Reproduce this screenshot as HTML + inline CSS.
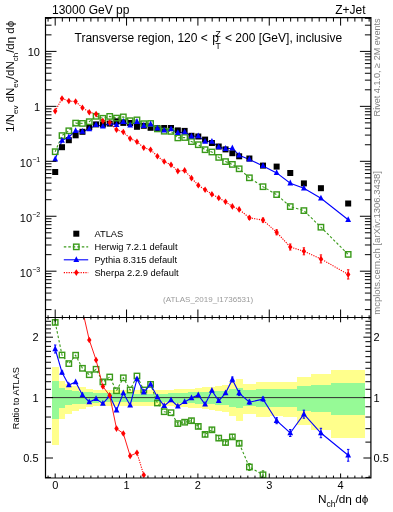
<!DOCTYPE html><html><head><meta charset="utf-8"><style>html,body{margin:0;padding:0;background:#fff;width:393px;height:512px;overflow:hidden}svg{display:block;will-change:transform}</style></head><body><svg width="393" height="512" viewBox="0 0 393 512"><defs><clipPath id="cm"><rect x="45.5" y="17.6" width="325.4" height="299.9"/></clipPath><clipPath id="cr"><rect x="45.5" y="317.5" width="325.4" height="160.5"/></clipPath></defs><rect width="393" height="512" fill="#fff"/><g clip-path="url(#cr)"><rect x="51.79" y="366.92" width="6.81" height="78.45" fill="#ffff8c" shape-rendering="crispEdges"/><rect x="58.61" y="380.56" width="6.81" height="38.25" fill="#ffff8c" shape-rendering="crispEdges"/><rect x="65.42" y="383.92" width="6.81" height="29.92" fill="#ffff8c" shape-rendering="crispEdges"/><rect x="72.23" y="385.8" width="6.81" height="25.45" fill="#ffff8c" shape-rendering="crispEdges"/><rect x="79.05" y="387.49" width="6.81" height="21.55" fill="#ffff8c" shape-rendering="crispEdges"/><rect x="85.86" y="388.82" width="6.81" height="18.54" fill="#ffff8c" shape-rendering="crispEdges"/><rect x="92.67" y="389.77" width="6.81" height="16.43" fill="#ffff8c" shape-rendering="crispEdges"/><rect x="99.49" y="389.77" width="6.81" height="16.43" fill="#ffff8c" shape-rendering="crispEdges"/><rect x="106.3" y="389.77" width="6.81" height="16.43" fill="#ffff8c" shape-rendering="crispEdges"/><rect x="113.11" y="389.77" width="6.81" height="16.43" fill="#ffff8c" shape-rendering="crispEdges"/><rect x="119.93" y="389.77" width="6.81" height="16.43" fill="#ffff8c" shape-rendering="crispEdges"/><rect x="126.74" y="389.77" width="6.81" height="16.43" fill="#ffff8c" shape-rendering="crispEdges"/><rect x="133.55" y="389.85" width="6.81" height="16.25" fill="#ffff8c" shape-rendering="crispEdges"/><rect x="140.37" y="389.85" width="6.81" height="16.25" fill="#ffff8c" shape-rendering="crispEdges"/><rect x="147.18" y="389.85" width="6.81" height="16.25" fill="#ffff8c" shape-rendering="crispEdges"/><rect x="153.99" y="389.85" width="6.81" height="16.25" fill="#ffff8c" shape-rendering="crispEdges"/><rect x="160.81" y="389.85" width="6.81" height="16.25" fill="#ffff8c" shape-rendering="crispEdges"/><rect x="167.62" y="389.69" width="6.81" height="16.61" fill="#ffff8c" shape-rendering="crispEdges"/><rect x="174.43" y="389.29" width="6.81" height="17.49" fill="#ffff8c" shape-rendering="crispEdges"/><rect x="181.25" y="389.29" width="6.81" height="17.49" fill="#ffff8c" shape-rendering="crispEdges"/><rect x="188.06" y="388.51" width="6.81" height="19.25" fill="#ffff8c" shape-rendering="crispEdges"/><rect x="194.87" y="387.96" width="6.81" height="20.48" fill="#ffff8c" shape-rendering="crispEdges"/><rect x="201.69" y="387.34" width="6.81" height="21.9" fill="#ffff8c" shape-rendering="crispEdges"/><rect x="208.5" y="386.95" width="6.81" height="22.79" fill="#ffff8c" shape-rendering="crispEdges"/><rect x="215.32" y="385.65" width="6.81" height="25.81" fill="#ffff8c" shape-rendering="crispEdges"/><rect x="222.13" y="385.42" width="6.81" height="26.34" fill="#ffff8c" shape-rendering="crispEdges"/><rect x="228.94" y="382.44" width="6.81" height="33.52" fill="#ffff8c" shape-rendering="crispEdges"/><rect x="235.76" y="379.28" width="6.81" height="41.55" fill="#ffff8c" shape-rendering="crispEdges"/><rect x="242.57" y="384.14" width="13.63" height="29.38" fill="#ffff8c" shape-rendering="crispEdges"/><rect x="256.2" y="382.08" width="13.63" height="34.42" fill="#ffff8c" shape-rendering="crispEdges"/><rect x="269.82" y="382.44" width="13.63" height="33.52" fill="#ffff8c" shape-rendering="crispEdges"/><rect x="283.45" y="382.08" width="13.63" height="34.42" fill="#ffff8c" shape-rendering="crispEdges"/><rect x="297.08" y="376.77" width="13.63" height="48.25" fill="#ffff8c" shape-rendering="crispEdges"/><rect x="310.7" y="374.2" width="20.44" height="55.48" fill="#ffff8c" shape-rendering="crispEdges"/><rect x="331.14" y="370.3" width="34.07" height="67.29" fill="#ffff8c" shape-rendering="crispEdges"/><rect x="51.79" y="380.56" width="6.81" height="38.25" fill="#96fa96" shape-rendering="crispEdges"/><rect x="58.61" y="388.27" width="6.81" height="19.78" fill="#96fa96" shape-rendering="crispEdges"/><rect x="65.42" y="390.49" width="6.81" height="14.85" fill="#96fa96" shape-rendering="crispEdges"/><rect x="72.23" y="391.38" width="6.81" height="12.92" fill="#96fa96" shape-rendering="crispEdges"/><rect x="79.05" y="391.95" width="6.81" height="11.69" fill="#96fa96" shape-rendering="crispEdges"/><rect x="85.86" y="392.44" width="6.81" height="10.64" fill="#96fa96" shape-rendering="crispEdges"/><rect x="92.67" y="392.85" width="6.81" height="9.77" fill="#96fa96" shape-rendering="crispEdges"/><rect x="99.49" y="393.02" width="6.81" height="9.42" fill="#96fa96" shape-rendering="crispEdges"/><rect x="106.3" y="393.1" width="6.81" height="9.25" fill="#96fa96" shape-rendering="crispEdges"/><rect x="113.11" y="393.1" width="6.81" height="9.25" fill="#96fa96" shape-rendering="crispEdges"/><rect x="119.93" y="393.1" width="6.81" height="9.25" fill="#96fa96" shape-rendering="crispEdges"/><rect x="126.74" y="393.1" width="6.81" height="9.25" fill="#96fa96" shape-rendering="crispEdges"/><rect x="133.55" y="393.51" width="6.81" height="8.37" fill="#96fa96" shape-rendering="crispEdges"/><rect x="140.37" y="393.51" width="6.81" height="8.37" fill="#96fa96" shape-rendering="crispEdges"/><rect x="147.18" y="393.51" width="6.81" height="8.37" fill="#96fa96" shape-rendering="crispEdges"/><rect x="153.99" y="393.51" width="6.81" height="8.37" fill="#96fa96" shape-rendering="crispEdges"/><rect x="160.81" y="393.51" width="6.81" height="8.37" fill="#96fa96" shape-rendering="crispEdges"/><rect x="167.62" y="393.35" width="6.81" height="8.72" fill="#96fa96" shape-rendering="crispEdges"/><rect x="174.43" y="392.85" width="6.81" height="9.77" fill="#96fa96" shape-rendering="crispEdges"/><rect x="181.25" y="392.69" width="6.81" height="10.12" fill="#96fa96" shape-rendering="crispEdges"/><rect x="188.06" y="392.19" width="6.81" height="11.17" fill="#96fa96" shape-rendering="crispEdges"/><rect x="194.87" y="391.95" width="6.81" height="11.69" fill="#96fa96" shape-rendering="crispEdges"/><rect x="201.69" y="391.7" width="6.81" height="12.22" fill="#96fa96" shape-rendering="crispEdges"/><rect x="208.5" y="391.38" width="6.81" height="12.92" fill="#96fa96" shape-rendering="crispEdges"/><rect x="215.32" y="390.89" width="6.81" height="13.97" fill="#96fa96" shape-rendering="crispEdges"/><rect x="222.13" y="390.89" width="6.81" height="13.97" fill="#96fa96" shape-rendering="crispEdges"/><rect x="228.94" y="388.9" width="6.81" height="18.37" fill="#96fa96" shape-rendering="crispEdges"/><rect x="235.76" y="387.96" width="6.81" height="20.48" fill="#96fa96" shape-rendering="crispEdges"/><rect x="242.57" y="389.69" width="13.63" height="16.61" fill="#96fa96" shape-rendering="crispEdges"/><rect x="256.2" y="389.06" width="13.63" height="18.01" fill="#96fa96" shape-rendering="crispEdges"/><rect x="269.82" y="389.29" width="13.63" height="17.49" fill="#96fa96" shape-rendering="crispEdges"/><rect x="283.45" y="389.29" width="13.63" height="17.49" fill="#96fa96" shape-rendering="crispEdges"/><rect x="297.08" y="385.72" width="13.63" height="25.63" fill="#96fa96" shape-rendering="crispEdges"/><rect x="310.7" y="385.19" width="20.44" height="26.88" fill="#96fa96" shape-rendering="crispEdges"/><rect x="331.14" y="382.96" width="34.07" height="32.26" fill="#96fa96" shape-rendering="crispEdges"/><line x1="45.5" y1="397.6" x2="370.9" y2="397.6" stroke="#333" stroke-width="1"/></g><g clip-path="url(#cr)"><polyline points="55.2,322.4 62.01,355 68.83,363.6 75.64,355.2 82.45,368.3 89.27,374.7 96.08,369.25 102.89,381.9 109.71,377 116.52,390.7 123.33,377.8 130.15,390 136.96,376 143.77,390 150.59,384.4 157.4,403 164.21,411.7 171.03,412.7 177.84,423.6 184.65,422.2 191.47,420.7 198.28,426.4 205.09,434.4 211.91,429.8 218.72,438.1 225.54,442.5 232.35,436.9 239.16,443.3 249.38,467 263.01,474.8 276.64,520" fill="none" stroke="#3a9a1a" stroke-width="1.1" stroke-dasharray="2.5,2"/><path d="M55.2 320.4V324.4M54 320.4H56.4M54 324.4H56.4" stroke="#3a9a1a" stroke-width="1" fill="none"/><rect x="52.5" y="319.7" width="5.4" height="5.4" fill="none" stroke="#3a9a1a" stroke-width="1.4"/><rect x="59.31" y="352.3" width="5.4" height="5.4" fill="none" stroke="#3a9a1a" stroke-width="1.4"/><rect x="66.13" y="360.9" width="5.4" height="5.4" fill="none" stroke="#3a9a1a" stroke-width="1.4"/><rect x="72.94" y="352.5" width="5.4" height="5.4" fill="none" stroke="#3a9a1a" stroke-width="1.4"/><rect x="79.75" y="365.6" width="5.4" height="5.4" fill="none" stroke="#3a9a1a" stroke-width="1.4"/><rect x="86.57" y="372" width="5.4" height="5.4" fill="none" stroke="#3a9a1a" stroke-width="1.4"/><rect x="93.38" y="366.55" width="5.4" height="5.4" fill="none" stroke="#3a9a1a" stroke-width="1.4"/><rect x="100.19" y="379.2" width="5.4" height="5.4" fill="none" stroke="#3a9a1a" stroke-width="1.4"/><rect x="107.01" y="374.3" width="5.4" height="5.4" fill="none" stroke="#3a9a1a" stroke-width="1.4"/><rect x="113.82" y="388" width="5.4" height="5.4" fill="none" stroke="#3a9a1a" stroke-width="1.4"/><rect x="120.63" y="375.1" width="5.4" height="5.4" fill="none" stroke="#3a9a1a" stroke-width="1.4"/><rect x="127.45" y="387.3" width="5.4" height="5.4" fill="none" stroke="#3a9a1a" stroke-width="1.4"/><rect x="134.26" y="373.3" width="5.4" height="5.4" fill="none" stroke="#3a9a1a" stroke-width="1.4"/><rect x="141.07" y="387.3" width="5.4" height="5.4" fill="none" stroke="#3a9a1a" stroke-width="1.4"/><rect x="147.89" y="381.7" width="5.4" height="5.4" fill="none" stroke="#3a9a1a" stroke-width="1.4"/><rect x="154.7" y="400.3" width="5.4" height="5.4" fill="none" stroke="#3a9a1a" stroke-width="1.4"/><rect x="161.51" y="409" width="5.4" height="5.4" fill="none" stroke="#3a9a1a" stroke-width="1.4"/><rect x="168.33" y="410" width="5.4" height="5.4" fill="none" stroke="#3a9a1a" stroke-width="1.4"/><path d="M177.84 422.1V425.1M176.64 422.1H179.04M176.64 425.1H179.04" stroke="#3a9a1a" stroke-width="1" fill="none"/><rect x="175.14" y="420.9" width="5.4" height="5.4" fill="none" stroke="#3a9a1a" stroke-width="1.4"/><path d="M184.65 420.7V423.7M183.45 420.7H185.85M183.45 423.7H185.85" stroke="#3a9a1a" stroke-width="1" fill="none"/><rect x="181.95" y="419.5" width="5.4" height="5.4" fill="none" stroke="#3a9a1a" stroke-width="1.4"/><path d="M191.47 418.7V422.7M190.27 418.7H192.67M190.27 422.7H192.67" stroke="#3a9a1a" stroke-width="1" fill="none"/><rect x="188.77" y="418" width="5.4" height="5.4" fill="none" stroke="#3a9a1a" stroke-width="1.4"/><path d="M198.28 424.4V428.4M197.08 424.4H199.48M197.08 428.4H199.48" stroke="#3a9a1a" stroke-width="1" fill="none"/><rect x="195.58" y="423.7" width="5.4" height="5.4" fill="none" stroke="#3a9a1a" stroke-width="1.4"/><path d="M205.09 432.4V436.4M203.89 432.4H206.29M203.89 436.4H206.29" stroke="#3a9a1a" stroke-width="1" fill="none"/><rect x="202.39" y="431.7" width="5.4" height="5.4" fill="none" stroke="#3a9a1a" stroke-width="1.4"/><path d="M211.91 427.8V431.8M210.71 427.8H213.11M210.71 431.8H213.11" stroke="#3a9a1a" stroke-width="1" fill="none"/><rect x="209.21" y="427.1" width="5.4" height="5.4" fill="none" stroke="#3a9a1a" stroke-width="1.4"/><path d="M218.72 435.6V440.6M217.52 435.6H219.92M217.52 440.6H219.92" stroke="#3a9a1a" stroke-width="1" fill="none"/><rect x="216.02" y="435.4" width="5.4" height="5.4" fill="none" stroke="#3a9a1a" stroke-width="1.4"/><path d="M225.54 440V445M224.34 440H226.74M224.34 445H226.74" stroke="#3a9a1a" stroke-width="1" fill="none"/><rect x="222.84" y="439.8" width="5.4" height="5.4" fill="none" stroke="#3a9a1a" stroke-width="1.4"/><path d="M232.35 434.4V439.4M231.15 434.4H233.55M231.15 439.4H233.55" stroke="#3a9a1a" stroke-width="1" fill="none"/><rect x="229.65" y="434.2" width="5.4" height="5.4" fill="none" stroke="#3a9a1a" stroke-width="1.4"/><path d="M239.16 440.8V445.8M237.96 440.8H240.36M237.96 445.8H240.36" stroke="#3a9a1a" stroke-width="1" fill="none"/><rect x="236.46" y="440.6" width="5.4" height="5.4" fill="none" stroke="#3a9a1a" stroke-width="1.4"/><path d="M249.38 463.5V470.5M248.18 463.5H250.58M248.18 470.5H250.58" stroke="#3a9a1a" stroke-width="1" fill="none"/><rect x="246.68" y="464.3" width="5.4" height="5.4" fill="none" stroke="#3a9a1a" stroke-width="1.4"/><path d="M263.01 470.8V478.8M261.81 470.8H264.21M261.81 478.8H264.21" stroke="#3a9a1a" stroke-width="1" fill="none"/><rect x="260.31" y="472.1" width="5.4" height="5.4" fill="none" stroke="#3a9a1a" stroke-width="1.4"/><polyline points="55.2,349 62.01,372.5 68.83,385 75.64,382 82.45,395 89.27,402 96.08,398.9 102.89,403.6 109.71,395.8 116.52,410.3 123.33,393.1 130.15,405.2 136.96,379 143.77,392.2 150.59,384.4 157.4,397 164.21,405.9 171.03,400 177.84,406.25 184.65,401.9 191.47,398.1 198.28,395 205.09,404.4 211.91,390.6 218.72,400.9 225.54,393.1 232.35,379.5 239.16,393.1 249.38,402.2 263.01,399.1 276.64,420.7 290.26,433 303.89,414.2 320.92,433 348.18,455.3" fill="none" stroke="#0000ff" stroke-width="1.1"/><path d="M55.2 345V353M54 345H56.4M54 353H56.4" stroke="#0000ff" stroke-width="1" fill="none"/><polygon points="55.2,345.4 52.3,351.2 58.1,351.2" fill="#0000ff"/><path d="M62.01 371V374M60.81 371H63.21M60.81 374H63.21" stroke="#0000ff" stroke-width="1" fill="none"/><polygon points="62.01,368.9 59.11,374.7 64.91,374.7" fill="#0000ff"/><polygon points="68.83,381.4 65.93,387.2 71.73,387.2" fill="#0000ff"/><polygon points="75.64,378.4 72.74,384.2 78.54,384.2" fill="#0000ff"/><polygon points="82.45,391.4 79.55,397.2 85.35,397.2" fill="#0000ff"/><polygon points="89.27,398.4 86.37,404.2 92.17,404.2" fill="#0000ff"/><polygon points="96.08,395.3 93.18,401.1 98.98,401.1" fill="#0000ff"/><polygon points="102.89,400 99.99,405.8 105.79,405.8" fill="#0000ff"/><polygon points="109.71,392.2 106.81,398 112.61,398" fill="#0000ff"/><polygon points="116.52,406.7 113.62,412.5 119.42,412.5" fill="#0000ff"/><polygon points="123.33,389.5 120.43,395.3 126.23,395.3" fill="#0000ff"/><polygon points="130.15,401.6 127.25,407.4 133.05,407.4" fill="#0000ff"/><polygon points="136.96,375.4 134.06,381.2 139.86,381.2" fill="#0000ff"/><polygon points="143.77,388.6 140.87,394.4 146.67,394.4" fill="#0000ff"/><polygon points="150.59,380.8 147.69,386.6 153.49,386.6" fill="#0000ff"/><polygon points="157.4,393.4 154.5,399.2 160.3,399.2" fill="#0000ff"/><polygon points="164.21,402.3 161.31,408.1 167.11,408.1" fill="#0000ff"/><polygon points="171.03,396.4 168.13,402.2 173.93,402.2" fill="#0000ff"/><polygon points="177.84,402.65 174.94,408.45 180.74,408.45" fill="#0000ff"/><polygon points="184.65,398.3 181.75,404.1 187.55,404.1" fill="#0000ff"/><polygon points="191.47,394.5 188.57,400.3 194.37,400.3" fill="#0000ff"/><polygon points="198.28,391.4 195.38,397.2 201.18,397.2" fill="#0000ff"/><polygon points="205.09,400.8 202.19,406.6 207.99,406.6" fill="#0000ff"/><polygon points="211.91,387 209.01,392.8 214.81,392.8" fill="#0000ff"/><polygon points="218.72,397.3 215.82,403.1 221.62,403.1" fill="#0000ff"/><polygon points="225.54,389.5 222.64,395.3 228.44,395.3" fill="#0000ff"/><path d="M232.35 377V382M231.15 377H233.55M231.15 382H233.55" stroke="#0000ff" stroke-width="1" fill="none"/><polygon points="232.35,375.9 229.45,381.7 235.25,381.7" fill="#0000ff"/><path d="M239.16 390.6V395.6M237.96 390.6H240.36M237.96 395.6H240.36" stroke="#0000ff" stroke-width="1" fill="none"/><polygon points="239.16,389.5 236.26,395.3 242.06,395.3" fill="#0000ff"/><path d="M249.38 400.2V404.2M248.18 400.2H250.58M248.18 404.2H250.58" stroke="#0000ff" stroke-width="1" fill="none"/><polygon points="249.38,398.6 246.48,404.4 252.28,404.4" fill="#0000ff"/><path d="M263.01 397.1V401.1M261.81 397.1H264.21M261.81 401.1H264.21" stroke="#0000ff" stroke-width="1" fill="none"/><polygon points="263.01,395.5 260.11,401.3 265.91,401.3" fill="#0000ff"/><path d="M276.64 417.7V423.7M275.44 417.7H277.84M275.44 423.7H277.84" stroke="#0000ff" stroke-width="1" fill="none"/><polygon points="276.64,417.1 273.74,422.9 279.54,422.9" fill="#0000ff"/><path d="M290.26 429.5V436.5M289.06 429.5H291.46M289.06 436.5H291.46" stroke="#0000ff" stroke-width="1" fill="none"/><polygon points="290.26,429.4 287.36,435.2 293.16,435.2" fill="#0000ff"/><path d="M303.89 410.2V418.2M302.69 410.2H305.09M302.69 418.2H305.09" stroke="#0000ff" stroke-width="1" fill="none"/><polygon points="303.89,410.6 300.99,416.4 306.79,416.4" fill="#0000ff"/><path d="M320.92 428.3V437.7M319.72 428.3H322.12M319.72 437.7H322.12" stroke="#0000ff" stroke-width="1" fill="none"/><polygon points="320.92,429.4 318.02,435.2 323.82,435.2" fill="#0000ff"/><path d="M348.18 449.4V461.2M346.98 449.4H349.38M346.98 461.2H349.38" stroke="#0000ff" stroke-width="1" fill="none"/><polygon points="348.18,451.7 345.28,457.5 351.08,457.5" fill="#0000ff"/><polyline points="75.64,250 82.45,310 89.27,340 96.08,360 102.89,386.5 109.71,395.5 116.52,428.6 123.33,433.5 130.15,455.9 136.96,452.8" fill="none" stroke="#ff0000" stroke-width="0.9"/><polyline points="136.96,452.8 143.77,475 150.59,520" fill="none" stroke="#ff0000" stroke-width="1.1" stroke-dasharray="1.2,1.2"/><polygon points="82.45,306.7 84.65,310 82.45,313.3 80.25,310" fill="#ff0000"/><polygon points="89.27,336.7 91.47,340 89.27,343.3 87.07,340" fill="#ff0000"/><polygon points="96.08,356.7 98.28,360 96.08,363.3 93.88,360" fill="#ff0000"/><polygon points="102.89,383.2 105.09,386.5 102.89,389.8 100.69,386.5" fill="#ff0000"/><polygon points="109.71,392.2 111.91,395.5 109.71,398.8 107.51,395.5" fill="#ff0000"/><polygon points="116.52,425.3 118.72,428.6 116.52,431.9 114.32,428.6" fill="#ff0000"/><polygon points="123.33,430.2 125.53,433.5 123.33,436.8 121.13,433.5" fill="#ff0000"/><polygon points="130.15,452.6 132.35,455.9 130.15,459.2 127.95,455.9" fill="#ff0000"/><polygon points="136.96,449.5 139.16,452.8 136.96,456.1 134.76,452.8" fill="#ff0000"/><polygon points="143.77,471.7 145.97,475 143.77,478.3 141.57,475" fill="#ff0000"/></g><g clip-path="url(#cm)"><polyline points="55.2,151.7 62.01,135.6 68.83,130.8 75.64,123.1 82.45,123.4 89.27,121.7 96.08,116.3 102.89,118.3 109.71,116.4 116.52,118.1 123.33,116.9 130.15,120.7 136.96,119.9 143.77,123.7 150.59,123.5 157.4,128.9 164.21,131.2 171.03,131.4 177.84,137.9 184.65,137.5 191.47,141.6 198.28,144.7 205.09,149.7 211.91,152 218.72,157.4 225.54,161.6 232.35,164.4 239.16,168.8 249.38,177.8 263.01,186.7 276.64,194.6 290.26,206.6 303.89,210.6 320.92,227.2 348.18,254.4" fill="none" stroke="#3a9a1a" stroke-width="1.1" stroke-dasharray="2.5,2"/><polyline points="55.2,159.2 62.01,140.5 68.83,137 75.64,130.8 82.45,131.6 89.27,129.1 96.08,124.8 102.89,126.3 109.71,123.1 116.52,124.8 123.33,121.7 130.15,125.2 136.96,121.7 143.77,125.7 150.59,124.2 157.4,128.3 164.21,130.3 171.03,129.1 177.84,132.9 184.65,132.1 191.47,136.3 198.28,136 205.09,141.5 211.91,141.5 218.72,147.1 225.54,148.7 232.35,148.2 239.16,155.2 249.38,159.4 263.01,165.9 276.64,172.9 290.26,183.2 303.89,188.2 320.92,198.3 348.18,219.8" fill="none" stroke="#0000ff" stroke-width="1.1"/><polyline points="55.2,111.1 62.01,98.5 68.83,101 75.64,101.6 82.45,107.7 89.27,112.2 96.08,114.1 102.89,121 109.71,122.6 116.52,129.8 123.33,132 130.15,138.6 136.96,141.8 143.77,147.7 150.59,149.8 157.4,156.2 164.21,161.5 171.03,164.7 177.84,171.1 184.65,170.4 191.47,178.1 198.28,185.3 205.09,189.8 211.91,194.2 218.72,198 225.54,201.8 232.35,206.4 239.16,209.4 249.38,217.8 263.01,220.1 276.64,232.3 290.26,247 303.89,251.3 320.92,258.9 348.18,274.4" fill="none" stroke="#ff0000" stroke-width="1.1" stroke-dasharray="1.2,1.2"/><rect x="52.2" y="169" width="6" height="6" fill="#000"/><rect x="59.01" y="144.2" width="6" height="6" fill="#000"/><rect x="65.83" y="137.2" width="6" height="6" fill="#000"/><rect x="72.64" y="132.3" width="6" height="6" fill="#000"/><rect x="79.45" y="128.8" width="6" height="6" fill="#000"/><rect x="86.27" y="124.2" width="6" height="6" fill="#000"/><rect x="93.08" y="121.4" width="6" height="6" fill="#000"/><rect x="99.89" y="121.6" width="6" height="6" fill="#000"/><rect x="106.71" y="120.6" width="6" height="6" fill="#000"/><rect x="113.52" y="118.3" width="6" height="6" fill="#000"/><rect x="120.33" y="119.9" width="6" height="6" fill="#000"/><rect x="127.15" y="120" width="6" height="6" fill="#000"/><rect x="133.96" y="123.8" width="6" height="6" fill="#000"/><rect x="140.77" y="122.8" width="6" height="6" fill="#000"/><rect x="147.59" y="124.8" width="6" height="6" fill="#000"/><rect x="154.4" y="125.2" width="6" height="6" fill="#000"/><rect x="161.21" y="125" width="6" height="6" fill="#000"/><rect x="168.03" y="125" width="6" height="6" fill="#000"/><rect x="174.84" y="127.4" width="6" height="6" fill="#000"/><rect x="181.65" y="127.9" width="6" height="6" fill="#000"/><rect x="188.47" y="132.8" width="6" height="6" fill="#000"/><rect x="195.28" y="133.5" width="6" height="6" fill="#000"/><rect x="202.09" y="136.6" width="6" height="6" fill="#000"/><rect x="208.91" y="140" width="6" height="6" fill="#000"/><rect x="215.72" y="143.5" width="6" height="6" fill="#000"/><rect x="222.54" y="146.4" width="6" height="6" fill="#000"/><rect x="229.35" y="150.2" width="6" height="6" fill="#000"/><rect x="236.16" y="153.3" width="6" height="6" fill="#000"/><rect x="246.38" y="155.5" width="6" height="6" fill="#000"/><rect x="260.01" y="162.6" width="6" height="6" fill="#000"/><rect x="273.64" y="163.6" width="6" height="6" fill="#000"/><rect x="287.26" y="170" width="6" height="6" fill="#000"/><rect x="300.89" y="180.4" width="6" height="6" fill="#000"/><rect x="317.92" y="185.2" width="6" height="6" fill="#000"/><rect x="345.18" y="200.5" width="6" height="6" fill="#000"/><rect x="52.5" y="149" width="5.4" height="5.4" fill="none" stroke="#3a9a1a" stroke-width="1.4"/><rect x="59.31" y="132.9" width="5.4" height="5.4" fill="none" stroke="#3a9a1a" stroke-width="1.4"/><rect x="66.13" y="128.1" width="5.4" height="5.4" fill="none" stroke="#3a9a1a" stroke-width="1.4"/><rect x="72.94" y="120.4" width="5.4" height="5.4" fill="none" stroke="#3a9a1a" stroke-width="1.4"/><rect x="79.75" y="120.7" width="5.4" height="5.4" fill="none" stroke="#3a9a1a" stroke-width="1.4"/><rect x="86.57" y="119" width="5.4" height="5.4" fill="none" stroke="#3a9a1a" stroke-width="1.4"/><rect x="93.38" y="113.6" width="5.4" height="5.4" fill="none" stroke="#3a9a1a" stroke-width="1.4"/><rect x="100.19" y="115.6" width="5.4" height="5.4" fill="none" stroke="#3a9a1a" stroke-width="1.4"/><rect x="107.01" y="113.7" width="5.4" height="5.4" fill="none" stroke="#3a9a1a" stroke-width="1.4"/><rect x="113.82" y="115.4" width="5.4" height="5.4" fill="none" stroke="#3a9a1a" stroke-width="1.4"/><rect x="120.63" y="114.2" width="5.4" height="5.4" fill="none" stroke="#3a9a1a" stroke-width="1.4"/><rect x="127.45" y="118" width="5.4" height="5.4" fill="none" stroke="#3a9a1a" stroke-width="1.4"/><rect x="134.26" y="117.2" width="5.4" height="5.4" fill="none" stroke="#3a9a1a" stroke-width="1.4"/><rect x="141.07" y="121" width="5.4" height="5.4" fill="none" stroke="#3a9a1a" stroke-width="1.4"/><rect x="147.89" y="120.8" width="5.4" height="5.4" fill="none" stroke="#3a9a1a" stroke-width="1.4"/><rect x="154.7" y="126.2" width="5.4" height="5.4" fill="none" stroke="#3a9a1a" stroke-width="1.4"/><rect x="161.51" y="128.5" width="5.4" height="5.4" fill="none" stroke="#3a9a1a" stroke-width="1.4"/><rect x="168.33" y="128.7" width="5.4" height="5.4" fill="none" stroke="#3a9a1a" stroke-width="1.4"/><rect x="175.14" y="135.2" width="5.4" height="5.4" fill="none" stroke="#3a9a1a" stroke-width="1.4"/><rect x="181.95" y="134.8" width="5.4" height="5.4" fill="none" stroke="#3a9a1a" stroke-width="1.4"/><rect x="188.77" y="138.9" width="5.4" height="5.4" fill="none" stroke="#3a9a1a" stroke-width="1.4"/><rect x="195.58" y="142" width="5.4" height="5.4" fill="none" stroke="#3a9a1a" stroke-width="1.4"/><rect x="202.39" y="147" width="5.4" height="5.4" fill="none" stroke="#3a9a1a" stroke-width="1.4"/><rect x="209.21" y="149.3" width="5.4" height="5.4" fill="none" stroke="#3a9a1a" stroke-width="1.4"/><rect x="216.02" y="154.7" width="5.4" height="5.4" fill="none" stroke="#3a9a1a" stroke-width="1.4"/><rect x="222.84" y="158.9" width="5.4" height="5.4" fill="none" stroke="#3a9a1a" stroke-width="1.4"/><rect x="229.65" y="161.7" width="5.4" height="5.4" fill="none" stroke="#3a9a1a" stroke-width="1.4"/><rect x="236.46" y="166.1" width="5.4" height="5.4" fill="none" stroke="#3a9a1a" stroke-width="1.4"/><rect x="246.68" y="175.1" width="5.4" height="5.4" fill="none" stroke="#3a9a1a" stroke-width="1.4"/><rect x="260.31" y="184" width="5.4" height="5.4" fill="none" stroke="#3a9a1a" stroke-width="1.4"/><rect x="273.94" y="191.9" width="5.4" height="5.4" fill="none" stroke="#3a9a1a" stroke-width="1.4"/><rect x="287.56" y="203.9" width="5.4" height="5.4" fill="none" stroke="#3a9a1a" stroke-width="1.4"/><rect x="301.19" y="207.9" width="5.4" height="5.4" fill="none" stroke="#3a9a1a" stroke-width="1.4"/><rect x="318.22" y="224.5" width="5.4" height="5.4" fill="none" stroke="#3a9a1a" stroke-width="1.4"/><rect x="345.48" y="251.7" width="5.4" height="5.4" fill="none" stroke="#3a9a1a" stroke-width="1.4"/><polygon points="55.2,155.6 52.3,161.4 58.1,161.4" fill="#0000ff"/><polygon points="62.01,136.9 59.11,142.7 64.91,142.7" fill="#0000ff"/><polygon points="68.83,133.4 65.93,139.2 71.73,139.2" fill="#0000ff"/><polygon points="75.64,127.2 72.74,133 78.54,133" fill="#0000ff"/><polygon points="82.45,128 79.55,133.8 85.35,133.8" fill="#0000ff"/><polygon points="89.27,125.5 86.37,131.3 92.17,131.3" fill="#0000ff"/><polygon points="96.08,121.2 93.18,127 98.98,127" fill="#0000ff"/><polygon points="102.89,122.7 99.99,128.5 105.79,128.5" fill="#0000ff"/><polygon points="109.71,119.5 106.81,125.3 112.61,125.3" fill="#0000ff"/><polygon points="116.52,121.2 113.62,127 119.42,127" fill="#0000ff"/><polygon points="123.33,118.1 120.43,123.9 126.23,123.9" fill="#0000ff"/><polygon points="130.15,121.6 127.25,127.4 133.05,127.4" fill="#0000ff"/><polygon points="136.96,118.1 134.06,123.9 139.86,123.9" fill="#0000ff"/><polygon points="143.77,122.1 140.87,127.9 146.67,127.9" fill="#0000ff"/><polygon points="150.59,120.6 147.69,126.4 153.49,126.4" fill="#0000ff"/><polygon points="157.4,124.7 154.5,130.5 160.3,130.5" fill="#0000ff"/><polygon points="164.21,126.7 161.31,132.5 167.11,132.5" fill="#0000ff"/><polygon points="171.03,125.5 168.13,131.3 173.93,131.3" fill="#0000ff"/><polygon points="177.84,129.3 174.94,135.1 180.74,135.1" fill="#0000ff"/><polygon points="184.65,128.5 181.75,134.3 187.55,134.3" fill="#0000ff"/><polygon points="191.47,132.7 188.57,138.5 194.37,138.5" fill="#0000ff"/><polygon points="198.28,132.4 195.38,138.2 201.18,138.2" fill="#0000ff"/><polygon points="205.09,137.9 202.19,143.7 207.99,143.7" fill="#0000ff"/><polygon points="211.91,137.9 209.01,143.7 214.81,143.7" fill="#0000ff"/><polygon points="218.72,143.5 215.82,149.3 221.62,149.3" fill="#0000ff"/><polygon points="225.54,145.1 222.64,150.9 228.44,150.9" fill="#0000ff"/><polygon points="232.35,144.6 229.45,150.4 235.25,150.4" fill="#0000ff"/><polygon points="239.16,151.6 236.26,157.4 242.06,157.4" fill="#0000ff"/><polygon points="249.38,155.8 246.48,161.6 252.28,161.6" fill="#0000ff"/><polygon points="263.01,162.3 260.11,168.1 265.91,168.1" fill="#0000ff"/><polygon points="276.64,169.3 273.74,175.1 279.54,175.1" fill="#0000ff"/><polygon points="290.26,179.6 287.36,185.4 293.16,185.4" fill="#0000ff"/><polygon points="303.89,184.6 300.99,190.4 306.79,190.4" fill="#0000ff"/><polygon points="320.92,194.7 318.02,200.5 323.82,200.5" fill="#0000ff"/><polygon points="348.18,216.2 345.28,222 351.08,222" fill="#0000ff"/><polygon points="55.2,107.8 57.4,111.1 55.2,114.4 53,111.1" fill="#ff0000"/><polygon points="62.01,95.2 64.21,98.5 62.01,101.8 59.81,98.5" fill="#ff0000"/><polygon points="68.83,97.7 71.03,101 68.83,104.3 66.63,101" fill="#ff0000"/><polygon points="75.64,98.3 77.84,101.6 75.64,104.9 73.44,101.6" fill="#ff0000"/><polygon points="82.45,104.4 84.65,107.7 82.45,111 80.25,107.7" fill="#ff0000"/><polygon points="89.27,108.9 91.47,112.2 89.27,115.5 87.07,112.2" fill="#ff0000"/><polygon points="96.08,110.8 98.28,114.1 96.08,117.4 93.88,114.1" fill="#ff0000"/><polygon points="102.89,117.7 105.09,121 102.89,124.3 100.69,121" fill="#ff0000"/><polygon points="109.71,119.3 111.91,122.6 109.71,125.9 107.51,122.6" fill="#ff0000"/><polygon points="116.52,126.5 118.72,129.8 116.52,133.1 114.32,129.8" fill="#ff0000"/><polygon points="123.33,128.7 125.53,132 123.33,135.3 121.13,132" fill="#ff0000"/><polygon points="130.15,135.3 132.35,138.6 130.15,141.9 127.95,138.6" fill="#ff0000"/><polygon points="136.96,138.5 139.16,141.8 136.96,145.1 134.76,141.8" fill="#ff0000"/><polygon points="143.77,144.4 145.97,147.7 143.77,151 141.57,147.7" fill="#ff0000"/><polygon points="150.59,146.5 152.79,149.8 150.59,153.1 148.39,149.8" fill="#ff0000"/><polygon points="157.4,152.9 159.6,156.2 157.4,159.5 155.2,156.2" fill="#ff0000"/><polygon points="164.21,158.2 166.41,161.5 164.21,164.8 162.01,161.5" fill="#ff0000"/><polygon points="171.03,161.4 173.23,164.7 171.03,168 168.83,164.7" fill="#ff0000"/><polygon points="177.84,167.8 180.04,171.1 177.84,174.4 175.64,171.1" fill="#ff0000"/><polygon points="184.65,167.1 186.85,170.4 184.65,173.7 182.45,170.4" fill="#ff0000"/><polygon points="191.47,174.8 193.67,178.1 191.47,181.4 189.27,178.1" fill="#ff0000"/><polygon points="198.28,182 200.48,185.3 198.28,188.6 196.08,185.3" fill="#ff0000"/><polygon points="205.09,186.5 207.29,189.8 205.09,193.1 202.89,189.8" fill="#ff0000"/><polygon points="211.91,190.9 214.11,194.2 211.91,197.5 209.71,194.2" fill="#ff0000"/><polygon points="218.72,194.7 220.92,198 218.72,201.3 216.52,198" fill="#ff0000"/><polygon points="225.54,198.5 227.74,201.8 225.54,205.1 223.34,201.8" fill="#ff0000"/><polygon points="232.35,203.1 234.55,206.4 232.35,209.7 230.15,206.4" fill="#ff0000"/><polygon points="239.16,206.1 241.36,209.4 239.16,212.7 236.96,209.4" fill="#ff0000"/><path d="M249.38 216.3V219.3M248.18 216.3H250.58M248.18 219.3H250.58" stroke="#ff0000" stroke-width="1" fill="none"/><polygon points="249.38,214.5 251.58,217.8 249.38,221.1 247.18,217.8" fill="#ff0000"/><path d="M263.01 218.1V222.1M261.81 218.1H264.21M261.81 222.1H264.21" stroke="#ff0000" stroke-width="1" fill="none"/><polygon points="263.01,216.8 265.21,220.1 263.01,223.4 260.81,220.1" fill="#ff0000"/><path d="M276.64 229.8V234.8M275.44 229.8H277.84M275.44 234.8H277.84" stroke="#ff0000" stroke-width="1" fill="none"/><polygon points="276.64,229 278.84,232.3 276.64,235.6 274.44,232.3" fill="#ff0000"/><path d="M290.26 244V250M289.06 244H291.46M289.06 250H291.46" stroke="#ff0000" stroke-width="1" fill="none"/><polygon points="290.26,243.7 292.46,247 290.26,250.3 288.06,247" fill="#ff0000"/><path d="M303.89 247.8V254.8M302.69 247.8H305.09M302.69 254.8H305.09" stroke="#ff0000" stroke-width="1" fill="none"/><polygon points="303.89,248 306.09,251.3 303.89,254.6 301.69,251.3" fill="#ff0000"/><path d="M320.92 254.9V262.9M319.72 254.9H322.12M319.72 262.9H322.12" stroke="#ff0000" stroke-width="1" fill="none"/><polygon points="320.92,255.6 323.12,258.9 320.92,262.2 318.72,258.9" fill="#ff0000"/><path d="M348.18 269.8V279M346.98 269.8H349.38M346.98 279H349.38" stroke="#ff0000" stroke-width="1" fill="none"/><polygon points="348.18,271.1 350.38,274.4 348.18,277.7 345.98,274.4" fill="#ff0000"/></g><path d="M48.07 17.6L48.07 21.6M48.07 319.5L48.07 315.3M48.07 478L48.07 475.6M55.2 17.6L55.2 25.6M55.2 322.3L55.2 309.5M55.2 478L55.2 473.5M62.34 17.6L62.34 21.6M62.34 319.5L62.34 315.3M62.34 478L62.34 475.6M69.47 17.6L69.47 21.6M69.47 319.5L69.47 315.3M69.47 478L69.47 475.6M76.61 17.6L76.61 21.6M76.61 319.5L76.61 315.3M76.61 478L76.61 475.6M83.74 17.6L83.74 21.6M83.74 319.5L83.74 315.3M83.74 478L83.74 475.6M90.88 17.6L90.88 21.6M90.88 319.5L90.88 315.3M90.88 478L90.88 475.6M98.01 17.6L98.01 21.6M98.01 319.5L98.01 315.3M98.01 478L98.01 475.6M105.14 17.6L105.14 21.6M105.14 319.5L105.14 315.3M105.14 478L105.14 475.6M112.28 17.6L112.28 21.6M112.28 319.5L112.28 315.3M112.28 478L112.28 475.6M119.42 17.6L119.42 21.6M119.42 319.5L119.42 315.3M119.42 478L119.42 475.6M126.55 17.6L126.55 25.6M126.55 322.3L126.55 309.5M126.55 478L126.55 473.5M133.69 17.6L133.69 21.6M133.69 319.5L133.69 315.3M133.69 478L133.69 475.6M140.82 17.6L140.82 21.6M140.82 319.5L140.82 315.3M140.82 478L140.82 475.6M147.95 17.6L147.95 21.6M147.95 319.5L147.95 315.3M147.95 478L147.95 475.6M155.09 17.6L155.09 21.6M155.09 319.5L155.09 315.3M155.09 478L155.09 475.6M162.22 17.6L162.22 21.6M162.22 319.5L162.22 315.3M162.22 478L162.22 475.6M169.36 17.6L169.36 21.6M169.36 319.5L169.36 315.3M169.36 478L169.36 475.6M176.5 17.6L176.5 21.6M176.5 319.5L176.5 315.3M176.5 478L176.5 475.6M183.63 17.6L183.63 21.6M183.63 319.5L183.63 315.3M183.63 478L183.63 475.6M190.76 17.6L190.76 21.6M190.76 319.5L190.76 315.3M190.76 478L190.76 475.6M197.9 17.6L197.9 25.6M197.9 322.3L197.9 309.5M197.9 478L197.9 473.5M205.04 17.6L205.04 21.6M205.04 319.5L205.04 315.3M205.04 478L205.04 475.6M212.17 17.6L212.17 21.6M212.17 319.5L212.17 315.3M212.17 478L212.17 475.6M219.3 17.6L219.3 21.6M219.3 319.5L219.3 315.3M219.3 478L219.3 475.6M226.44 17.6L226.44 21.6M226.44 319.5L226.44 315.3M226.44 478L226.44 475.6M233.57 17.6L233.57 21.6M233.57 319.5L233.57 315.3M233.57 478L233.57 475.6M240.71 17.6L240.71 21.6M240.71 319.5L240.71 315.3M240.71 478L240.71 475.6M247.85 17.6L247.85 21.6M247.85 319.5L247.85 315.3M247.85 478L247.85 475.6M254.98 17.6L254.98 21.6M254.98 319.5L254.98 315.3M254.98 478L254.98 475.6M262.11 17.6L262.11 21.6M262.11 319.5L262.11 315.3M262.11 478L262.11 475.6M269.25 17.6L269.25 25.6M269.25 322.3L269.25 309.5M269.25 478L269.25 473.5M276.38 17.6L276.38 21.6M276.38 319.5L276.38 315.3M276.38 478L276.38 475.6M283.52 17.6L283.52 21.6M283.52 319.5L283.52 315.3M283.52 478L283.52 475.6M290.65 17.6L290.65 21.6M290.65 319.5L290.65 315.3M290.65 478L290.65 475.6M297.79 17.6L297.79 21.6M297.79 319.5L297.79 315.3M297.79 478L297.79 475.6M304.92 17.6L304.92 21.6M304.92 319.5L304.92 315.3M304.92 478L304.92 475.6M312.06 17.6L312.06 21.6M312.06 319.5L312.06 315.3M312.06 478L312.06 475.6M319.19 17.6L319.19 21.6M319.19 319.5L319.19 315.3M319.19 478L319.19 475.6M326.33 17.6L326.33 21.6M326.33 319.5L326.33 315.3M326.33 478L326.33 475.6M333.46 17.6L333.46 21.6M333.46 319.5L333.46 315.3M333.46 478L333.46 475.6M340.6 17.6L340.6 25.6M340.6 322.3L340.6 309.5M340.6 478L340.6 473.5M347.73 17.6L347.73 21.6M347.73 319.5L347.73 315.3M347.73 478L347.73 475.6M354.87 17.6L354.87 21.6M354.87 319.5L354.87 315.3M354.87 478L354.87 475.6M362 17.6L362 21.6M362 319.5L362 315.3M362 478L362 475.6M369.14 17.6L369.14 21.6M369.14 319.5L369.14 315.3M369.14 478L369.14 475.6M45.5 309.61L51.5 309.61M370.9 309.61L364.9 309.61M45.5 299.93L51.5 299.93M370.9 299.93L364.9 299.93M45.5 293.07L51.5 293.07M370.9 293.07L364.9 293.07M45.5 287.74L51.5 287.74M370.9 287.74L364.9 287.74M45.5 283.39L51.5 283.39M370.9 283.39L364.9 283.39M45.5 279.71L51.5 279.71M370.9 279.71L364.9 279.71M45.5 276.53L51.5 276.53M370.9 276.53L364.9 276.53M45.5 273.71L51.5 273.71M370.9 273.71L364.9 273.71M45.5 271.2L56.5 271.2M370.9 271.2L359.9 271.2M45.5 254.66L51.5 254.66M370.9 254.66L364.9 254.66M45.5 244.98L51.5 244.98M370.9 244.98L364.9 244.98M45.5 238.12L51.5 238.12M370.9 238.12L364.9 238.12M45.5 232.79L51.5 232.79M370.9 232.79L364.9 232.79M45.5 228.44L51.5 228.44M370.9 228.44L364.9 228.44M45.5 224.76L51.5 224.76M370.9 224.76L364.9 224.76M45.5 221.58L51.5 221.58M370.9 221.58L364.9 221.58M45.5 218.76L51.5 218.76M370.9 218.76L364.9 218.76M45.5 216.25L56.5 216.25M370.9 216.25L359.9 216.25M45.5 199.71L51.5 199.71M370.9 199.71L364.9 199.71M45.5 190.03L51.5 190.03M370.9 190.03L364.9 190.03M45.5 183.17L51.5 183.17M370.9 183.17L364.9 183.17M45.5 177.84L51.5 177.84M370.9 177.84L364.9 177.84M45.5 173.49L51.5 173.49M370.9 173.49L364.9 173.49M45.5 169.81L51.5 169.81M370.9 169.81L364.9 169.81M45.5 166.63L51.5 166.63M370.9 166.63L364.9 166.63M45.5 163.81L51.5 163.81M370.9 163.81L364.9 163.81M45.5 161.3L56.5 161.3M370.9 161.3L359.9 161.3M45.5 144.76L51.5 144.76M370.9 144.76L364.9 144.76M45.5 135.08L51.5 135.08M370.9 135.08L364.9 135.08M45.5 128.22L51.5 128.22M370.9 128.22L364.9 128.22M45.5 122.89L51.5 122.89M370.9 122.89L364.9 122.89M45.5 118.54L51.5 118.54M370.9 118.54L364.9 118.54M45.5 114.86L51.5 114.86M370.9 114.86L364.9 114.86M45.5 111.68L51.5 111.68M370.9 111.68L364.9 111.68M45.5 108.86L51.5 108.86M370.9 108.86L364.9 108.86M45.5 106.35L56.5 106.35M370.9 106.35L359.9 106.35M45.5 89.81L51.5 89.81M370.9 89.81L364.9 89.81M45.5 80.13L51.5 80.13M370.9 80.13L364.9 80.13M45.5 73.27L51.5 73.27M370.9 73.27L364.9 73.27M45.5 67.94L51.5 67.94M370.9 67.94L364.9 67.94M45.5 63.59L51.5 63.59M370.9 63.59L364.9 63.59M45.5 59.91L51.5 59.91M370.9 59.91L364.9 59.91M45.5 56.73L51.5 56.73M370.9 56.73L364.9 56.73M45.5 53.91L51.5 53.91M370.9 53.91L364.9 53.91M45.5 51.4L56.5 51.4M370.9 51.4L359.9 51.4M45.5 34.86L51.5 34.86M370.9 34.86L364.9 34.86M45.5 25.18L51.5 25.18M370.9 25.18L364.9 25.18M45.5 18.32L51.5 18.32M370.9 18.32L364.9 18.32M45.5 477.44L51 477.44M370.9 477.44L365.4 477.44M45.5 458L53 458M370.9 458L363.4 458M45.5 442.11L51 442.11M370.9 442.11L365.4 442.11M45.5 428.68L51 428.68M370.9 428.68L365.4 428.68M45.5 417.04L51 417.04M370.9 417.04L365.4 417.04M45.5 406.78L51 406.78M370.9 406.78L365.4 406.78M45.5 397.6L53 397.6M370.9 397.6L363.4 397.6M45.5 389.29L51 389.29M370.9 389.29L365.4 389.29M45.5 381.71L51 381.71M370.9 381.71L365.4 381.71M45.5 374.74L51 374.74M370.9 374.74L365.4 374.74M45.5 368.28L51 368.28M370.9 368.28L365.4 368.28M45.5 362.27L51 362.27M370.9 362.27L365.4 362.27M45.5 356.64L51 356.64M370.9 356.64L365.4 356.64M45.5 351.36L51 351.36M370.9 351.36L365.4 351.36M45.5 346.38L51 346.38M370.9 346.38L365.4 346.38M45.5 341.67L51 341.67M370.9 341.67L365.4 341.67M45.5 337.2L53 337.2M370.9 337.2L363.4 337.2M45.5 332.95L51 332.95M370.9 332.95L365.4 332.95M45.5 328.89L51 328.89M370.9 328.89L365.4 328.89M45.5 325.02L51 325.02M370.9 325.02L365.4 325.02M45.5 321.31L51 321.31M370.9 321.31L365.4 321.31" stroke="#000" stroke-width="1" fill="none"/><path d="M45.5 17.6H370.9V478H45.5ZM45.5 317.5H370.9" fill="none" stroke="#000" stroke-width="1.2"/><g font-family='"Liberation Sans", sans-serif'><text x="52" y="13.8" font-size="12" text-anchor="start" fill="#000">13000 GeV pp</text><text x="365.5" y="13.8" font-size="12" text-anchor="end" fill="#000">Z+Jet</text><text x="74.5" y="42" font-size="12">Transverse region, 120 &lt;</text><text x="212.2" y="42" font-size="12">p</text><text x="215.6" y="37.3" font-size="8.5">Z</text><text x="215.6" y="49" font-size="8.5">T</text><text x="225" y="42" font-size="12">&lt; 200 [GeV], inclusive</text><text x="40" y="56.4" font-size="11" text-anchor="end" fill="#000">10</text><text x="40" y="111.35" font-size="11" text-anchor="end" fill="#000">1</text><text x="40.2" y="166.9" font-size="11" text-anchor="end">10<tspan font-size="7" dy="-5" dx="0.2">&#8722;1</tspan></text><text x="40.2" y="221.85" font-size="11" text-anchor="end">10<tspan font-size="7" dy="-5" dx="0.2">&#8722;2</tspan></text><text x="40.2" y="276.8" font-size="11" text-anchor="end">10<tspan font-size="7" dy="-5" dx="0.2">&#8722;3</tspan></text><text x="38.5" y="341.2" font-size="11" text-anchor="end" fill="#000">2</text><text x="373.5" y="341.2" font-size="11" text-anchor="start" fill="#000">2</text><text x="38.5" y="401.6" font-size="11" text-anchor="end" fill="#000">1</text><text x="373.5" y="401.6" font-size="11" text-anchor="start" fill="#000">1</text><text x="38.5" y="462" font-size="11" text-anchor="end" fill="#000">0.5</text><text x="373.5" y="462" font-size="11" text-anchor="start" fill="#000">0.5</text><text x="55.2" y="489" font-size="11" text-anchor="middle" fill="#000">0</text><text x="126.55" y="489" font-size="11" text-anchor="middle" fill="#000">1</text><text x="197.9" y="489" font-size="11" text-anchor="middle" fill="#000">2</text><text x="269.25" y="489" font-size="11" text-anchor="middle" fill="#000">3</text><text x="340.6" y="489" font-size="11" text-anchor="middle" fill="#000">4</text><text x="368.4" y="502.5" font-size="11.8" text-anchor="end">N<tspan font-size="8.6" dy="4">ch</tspan><tspan dy="-4">/d&#951; d&#981;</tspan></text><text transform="translate(13.6,131.9) rotate(-90)" font-size="11.5">1/N<tspan font-size="8" dy="4">ev</tspan><tspan dy="-4"> dN</tspan><tspan font-size="8" dy="4">ev</tspan><tspan dy="-4">/dN</tspan><tspan font-size="8" dy="4">ch</tspan><tspan dy="-4">/d&#951; d&#981;</tspan></text><text transform="translate(18.6,429.2) rotate(-90)" font-size="9.2">Ratio to ATLAS</text><text transform="translate(380.4,116.4) rotate(-90)" font-size="9.1" fill="#808080">Rivet 4.1.0, &#8805; 2M events</text><text transform="translate(380.4,314.7) rotate(-90)" font-size="9.5" fill="#808080">mcplots.cern.ch [arXiv:1306.3438]</text><text x="163" y="302.4" font-size="8" text-anchor="start" fill="#9a9a9a">(ATLAS_2019_I1736531)</text><rect x="73.3" y="230.7" width="6" height="6" fill="#000"/><polyline points="63.8,246.85 88.2,246.85" fill="none" stroke="#3a9a1a" stroke-width="1.1" stroke-dasharray="2.5,2"/><rect x="73.6" y="244.15" width="5.4" height="5.4" fill="none" stroke="#3a9a1a" stroke-width="1.4"/><polyline points="63.8,259.8 88.2,259.8" fill="none" stroke="#0000ff" stroke-width="1.1"/><polygon points="76.3,256.2 73.4,262 79.2,262" fill="#0000ff"/><polyline points="63.8,272.6 88.2,272.6" fill="none" stroke="#ff0000" stroke-width="1.1" stroke-dasharray="1.2,1.2"/><polygon points="76.3,269.3 78.5,272.6 76.3,275.9 74.1,272.6" fill="#ff0000"/><text x="94.4" y="237.3" font-size="9.35" text-anchor="start" fill="#000">ATLAS</text><text x="94.4" y="250.3" font-size="9.35" text-anchor="start" fill="#000">Herwig 7.2.1 default</text><text x="94.4" y="263.3" font-size="9.35" text-anchor="start" fill="#000">Pythia 8.315 default</text><text x="94.4" y="276.1" font-size="9.35" text-anchor="start" fill="#000">Sherpa 2.2.9 default</text></g></svg></body></html>
